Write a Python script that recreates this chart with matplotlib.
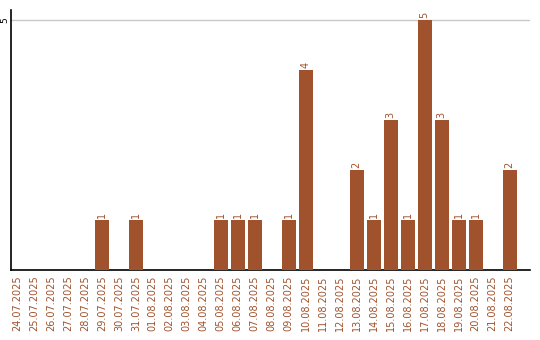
import matplotlib
matplotlib.use("Agg")
import matplotlib.pyplot as plt

dates = ["24.07.2025", "25.07.2025", "26.07.2025", "27.07.2025", "28.07.2025",
         "29.07.2025", "30.07.2025", "31.07.2025", "01.08.2025", "02.08.2025",
         "03.08.2025", "04.08.2025", "05.08.2025", "06.08.2025", "07.08.2025",
         "08.08.2025", "09.08.2025", "10.08.2025", "11.08.2025", "12.08.2025",
         "13.08.2025", "14.08.2025", "15.08.2025", "16.08.2025", "17.08.2025",
         "18.08.2025", "19.08.2025", "20.08.2025", "21.08.2025", "22.08.2025"]
counts = [0, 0, 0, 0, 0, 1, 0, 1, 0, 0, 0, 0, 1, 1, 1, 0, 1, 4, 0, 0,
          2, 1, 3, 1, 5, 3, 1, 1, 0, 2]

color = "#A0522D"
fig = plt.figure(figsize=(5.4, 3.4), dpi=100)
ax = fig.add_axes([11/540, 70/340, 519/540, 260/340])
x = list(range(len(dates)))
ax.bar(x, counts, width=0.82, color=color, zorder=3)
for xi, v in zip(x, counts):
    if v > 0:
        ax.text(xi, v + 0.04, str(v), rotation=90, ha="center", va="bottom",
                fontsize=7, color=color)
ax.set_xlim(-0.35, 30.2)
ax.set_ylim(0, 5.2)
ax.set_yticks([5])
ax.set_yticklabels(["5"], rotation=90, va="center", fontsize=6.5)
ax.yaxis.grid(True, color="#c8c8c8", linewidth=1, zorder=0)
ax.set_xticks(x)
ax.set_xticklabels(dates, rotation=90, fontsize=7, color=color)
ax.tick_params(axis="x", length=0, pad=4)
ax.tick_params(axis="y", length=0, pad=1)
for s in ["top", "right"]:
    ax.spines[s].set_visible(False)
ax.spines["left"].set_linewidth(1.2)
ax.spines["bottom"].set_linewidth(1.2)
fig.savefig("out.png", dpi=100)
